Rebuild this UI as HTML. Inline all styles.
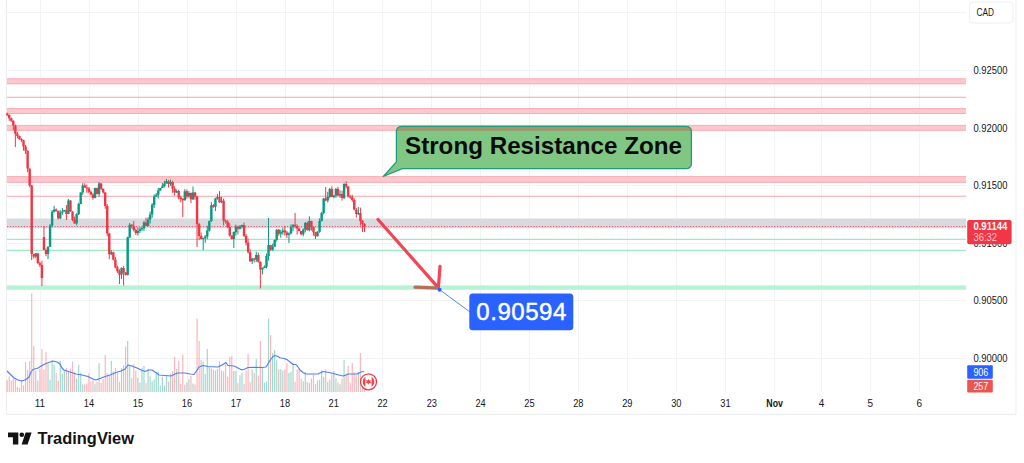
<!DOCTYPE html>
<html lang="en"><head><meta charset="utf-8"><title>TradingView chart</title>
<style>html,body{margin:0;padding:0;background:#fff}body{width:1024px;height:463px;overflow:hidden}svg{display:block}</style>
</head><body>
<svg width="1024" height="463" viewBox="0 0 1024 463" font-family='"Liberation Sans", sans-serif'>
<rect width="1024" height="463" fill="#fff"/>
<g stroke="#f2f3f5" stroke-width="1" shape-rendering="crispEdges"><line x1="6.5" y1="12.5" x2="966.0" y2="12.5"/><line x1="6.5" y1="70.5" x2="966.0" y2="70.5"/><line x1="6.5" y1="128.5" x2="966.0" y2="128.5"/><line x1="6.5" y1="185.5" x2="966.0" y2="185.5"/><line x1="6.5" y1="243.5" x2="966.0" y2="243.5"/><line x1="6.5" y1="300.5" x2="966.0" y2="300.5"/><line x1="6.5" y1="358.5" x2="966.0" y2="358.5"/><line x1="40.5" y1="0" x2="40.5" y2="392.0"/><line x1="89.5" y1="0" x2="89.5" y2="392.0"/><line x1="138.5" y1="0" x2="138.5" y2="392.0"/><line x1="187.5" y1="0" x2="187.5" y2="392.0"/><line x1="236.5" y1="0" x2="236.5" y2="392.0"/><line x1="285.5" y1="0" x2="285.5" y2="392.0"/><line x1="333.5" y1="0" x2="333.5" y2="392.0"/><line x1="382.5" y1="0" x2="382.5" y2="392.0"/><line x1="431.5" y1="0" x2="431.5" y2="392.0"/><line x1="480.5" y1="0" x2="480.5" y2="392.0"/><line x1="529.5" y1="0" x2="529.5" y2="392.0"/><line x1="578.5" y1="0" x2="578.5" y2="392.0"/><line x1="627.5" y1="0" x2="627.5" y2="392.0"/><line x1="676.5" y1="0" x2="676.5" y2="392.0"/><line x1="725.5" y1="0" x2="725.5" y2="392.0"/><line x1="774.5" y1="0" x2="774.5" y2="392.0"/><line x1="821.5" y1="0" x2="821.5" y2="392.0"/><line x1="870.5" y1="0" x2="870.5" y2="392.0"/><line x1="919.5" y1="0" x2="919.5" y2="392.0"/></g>
<path d="M6.5 0V414.5H1016.0V0" fill="none" stroke="#ecedf1" stroke-width="1"/>
<rect x="7.0" y="78.5" width="959.0" height="5.6" fill="#fcc8ce"/>
<path d="M7.0 78.8H966.0M7.0 83.8H966.0" stroke="#f7a6b0" stroke-width="0.8" fill="none"/>
<rect x="7.0" y="108.2" width="959.0" height="5.6" fill="#fcc8ce"/>
<path d="M7.0 108.5H966.0M7.0 113.5H966.0" stroke="#f7a6b0" stroke-width="0.8" fill="none"/>
<rect x="7.0" y="125.1" width="959.0" height="5.6" fill="#fcc8ce"/>
<path d="M7.0 125.39999999999999H966.0M7.0 130.39999999999998H966.0" stroke="#f7a6b0" stroke-width="0.8" fill="none"/>
<rect x="7.0" y="176.3" width="959.0" height="6.4" fill="#fcc8ce"/>
<path d="M7.0 176.60000000000002H966.0M7.0 182.39999999999998H966.0" stroke="#f7a6b0" stroke-width="0.8" fill="none"/>
<line x1="7.0" y1="97.3" x2="966.0" y2="97.3" stroke="#f7a3ad" stroke-width="1.1"/>
<line x1="7.0" y1="196.2" x2="966.0" y2="196.2" stroke="#f7a3ad" stroke-width="1.1"/>
<rect x="7.0" y="218.5" width="959.0" height="9.8" fill="#d9dae0"/>
<line x1="7.0" y1="226.6" x2="966.0" y2="226.6" stroke="#f23645" stroke-width="1" stroke-dasharray="1.2 1.6" opacity="0.85"/>
<line x1="7.0" y1="239.4" x2="966.0" y2="239.4" stroke="#9eeac4" stroke-width="1.2"/>
<line x1="7.0" y1="250.4" x2="966.0" y2="250.4" stroke="#9eeac4" stroke-width="1.2"/>
<rect x="7.0" y="285.4" width="959.0" height="4.4" fill="#b7f2d5"/>
<filter id="bl" x="-2%" y="-5%" width="104%" height="110%"><feGaussianBlur stdDeviation="0.4"/></filter><g filter="url(#bl)">
<path d="M35.78 252.9V258.1M48.03 246.4V259.0M50.07 224.0V247.0M52.12 210.0V227.2M54.16 205.8V212.6M60.28 210.1V219.2M62.32 207.9V214.7M64.37 209.9V211.4M68.45 199.0V214.2M76.62 213.2V225.4M78.66 202.7V215.0M80.70 192.3V204.4M82.74 183.2V194.9M94.99 187.6V198.3M99.08 182.0V196.8M111.33 250.2V255.2M121.53 267.3V279.0M127.66 236.7V275.4M129.70 223.0V238.2M137.87 227.3V235.7M139.91 227.3V233.1M141.95 226.5V230.9M143.99 220.9V231.0M148.08 217.2V226.3M150.12 211.5V223.5M152.16 203.2V217.8M154.20 194.5V207.9M156.24 193.1V196.7M158.28 187.9V198.6M160.32 187.9V190.8M162.37 183.0V188.0M164.41 180.9V187.4M166.45 178.9V183.4M170.53 179.6V185.9M176.66 189.3V193.1M184.82 189.1V200.7M188.91 191.1V197.8M192.99 186.5V200.1M203.20 237.6V250.0M205.24 235.1V242.8M207.28 225.8V239.2M209.32 220.7V231.6M211.37 202.2V221.9M215.45 197.7V211.0M217.49 194.2V199.6M221.57 196.8V203.2M233.82 231.4V248.0M235.87 224.6V235.6M239.95 225.1V229.6M241.99 224.6V228.2M252.20 257.9V264.0M256.28 251.7V262.0M262.41 267.3V274.5M264.45 265.3V268.2M266.49 253.5V268.4M268.53 218.0V260.6M272.62 243.7V250.8M274.66 239.4V246.8M276.70 229.2V241.5M280.78 229.7V237.7M282.82 227.8V234.8M288.95 232.3V243.0M290.99 224.5V234.4M293.03 224.4V231.2M303.24 228.3V236.3M305.28 222.0V232.4M309.37 216.4V231.3M317.53 231.3V236.6M319.58 218.3V232.7M321.62 211.8V221.5M323.66 198.0V214.4M327.74 191.8V202.5M329.78 187.9V198.3M333.87 195.3V198.4M335.91 188.0V197.8M339.99 190.3V197.8M344.08 183.0V199.1M358.37 207.0V215.0" stroke="#089981" stroke-width="1.0" fill="none"/>
<path d="M7.20 112.6V116.0M9.24 114.2V120.8M11.28 117.4V122.0M13.32 120.4V130.3M15.37 124.5V147.0M17.41 131.9V138.5M19.45 135.6V139.8M21.49 138.4V141.9M23.53 139.8V150.7M25.58 145.0V154.0M27.62 150.4V172.0M29.66 168.6V187.3M31.70 185.0V260.0M33.74 253.9V258.5M37.83 252.7V263.5M39.87 261.9V267.0M41.91 260.8V286.0M43.95 226.0V250.0M45.99 248.6V256.1M56.20 208.4V211.7M58.24 210.6V219.6M66.41 205.2V220.0M70.49 200.4V212.0M72.53 211.1V221.2M74.58 216.6V223.6M84.78 183.2V188.0M86.83 184.5V192.8M88.87 187.0V193.2M90.91 190.4V195.2M92.95 193.2V199.8M97.03 187.7V194.5M101.12 183.0V190.1M103.16 188.6V193.5M105.20 192.2V208.9M107.24 204.0V236.2M109.28 232.7V259.3M113.37 251.6V260.3M115.41 256.9V268.4M117.45 265.8V273.1M119.49 269.4V284.0M123.58 266.0V285.5M125.62 272.0V275.4M131.74 224.1V228.4M133.78 221.1V231.5M135.83 228.8V235.0M146.03 217.7V226.2M168.49 180.0V187.6M172.57 180.7V192.9M174.62 186.4V195.5M178.70 189.9V199.6M180.74 195.8V202.3M182.78 198.0V217.0M186.87 189.5V198.7M190.95 192.5V203.2M195.03 191.8V199.8M197.07 195.9V247.0M199.12 223.0V240.2M201.16 232.5V239.2M213.41 204.1V207.7M219.53 191.0V203.1M223.62 198.6V225.3M225.66 219.4V223.7M227.70 219.9V228.2M229.74 223.2V236.7M231.78 235.4V239.3M237.91 225.7V234.4M244.03 222.5V236.9M246.07 234.0V245.5M248.12 238.6V253.4M250.16 249.5V261.9M254.24 258.0V262.4M258.32 252.6V262.8M260.37 261.4V288.5M270.57 244.8V250.9M278.74 229.0V235.7M284.87 225.9V235.6M286.91 231.0V237.9M295.07 213.0V228.1M297.12 224.4V234.6M299.16 227.8V231.3M301.20 231.0V235.3M307.33 221.6V230.4M311.41 220.7V230.6M313.45 226.6V235.7M315.49 231.9V239.0M325.70 187.0V201.3M331.83 186.4V197.3M337.95 186.7V196.0M342.03 190.6V200.7M346.12 181.3V188.5M348.16 186.2V197.3M350.20 194.8V198.7M352.24 194.8V201.8M354.28 198.3V210.3M356.33 208.0V217.7M360.41 207.6V225.4M362.45 220.2V232.0M364.49 223.1V232.1" stroke="#f23645" stroke-width="1.0" fill="none"/>
<path d="M34.58 253.5h2.4v3.0h-2.4zM46.83 246.7h2.4v7.2h-2.4zM48.87 225.5h2.4v21.2h-2.4zM50.92 211.8h2.4v13.7h-2.4zM52.96 209.5h2.4v2.2h-2.4zM59.08 212.4h2.4v5.8h-2.4zM61.12 211.4h2.4v1.0h-2.4zM63.17 209.9h2.4v1.5h-2.4zM67.25 200.4h2.4v13.5h-2.4zM75.42 214.3h2.4v9.1h-2.4zM77.46 204.1h2.4v10.2h-2.4zM79.50 192.5h2.4v11.5h-2.4zM81.54 185.4h2.4v7.2h-2.4zM93.79 188.1h2.4v9.8h-2.4zM97.88 183.4h2.4v10.6h-2.4zM110.13 252.3h2.4v1.9h-2.4zM120.33 268.1h2.4v6.5h-2.4zM126.46 237.4h2.4v37.5h-2.4zM128.50 224.8h2.4v12.6h-2.4zM136.67 231.1h2.4v1.8h-2.4zM138.71 229.3h2.4v1.8h-2.4zM140.75 228.1h2.4v1.2h-2.4zM142.79 222.5h2.4v5.7h-2.4zM146.88 219.4h2.4v6.6h-2.4zM148.92 214.5h2.4v4.9h-2.4zM150.96 204.8h2.4v9.7h-2.4zM153.00 196.5h2.4v8.4h-2.4zM155.04 194.7h2.4v1.7h-2.4zM157.08 190.5h2.4v4.3h-2.4zM159.12 187.9h2.4v2.6h-2.4zM161.17 186.3h2.4v1.6h-2.4zM163.21 183.4h2.4v2.9h-2.4zM165.25 181.3h2.4v2.1h-2.4zM169.33 181.9h2.4v2.1h-2.4zM175.46 191.1h2.4v1.5h-2.4zM183.62 191.3h2.4v9.0h-2.4zM187.71 192.9h2.4v3.4h-2.4zM191.79 192.5h2.4v6.7h-2.4zM202.00 237.9h2.4v1.2h-2.4zM204.04 236.4h2.4v1.5h-2.4zM206.08 230.4h2.4v6.1h-2.4zM208.12 220.9h2.4v9.5h-2.4zM210.17 205.3h2.4v15.7h-2.4zM214.25 198.5h2.4v8.3h-2.4zM216.29 197.0h2.4v1.5h-2.4zM220.37 200.7h2.4v1.6h-2.4zM232.62 232.1h2.4v6.9h-2.4zM234.67 226.7h2.4v5.5h-2.4zM238.75 226.5h2.4v2.3h-2.4zM240.79 224.9h2.4v1.6h-2.4zM251.00 258.6h2.4v2.7h-2.4zM255.08 255.1h2.4v4.6h-2.4zM261.21 267.9h2.4v1.6h-2.4zM263.25 266.7h2.4v1.2h-2.4zM265.29 256.1h2.4v10.7h-2.4zM267.33 245.1h2.4v10.9h-2.4zM271.42 246.7h2.4v3.0h-2.4zM273.46 239.9h2.4v6.8h-2.4zM275.50 229.8h2.4v10.2h-2.4zM279.58 232.2h2.4v1.6h-2.4zM281.62 230.5h2.4v1.8h-2.4zM287.75 233.4h2.4v1.6h-2.4zM289.79 227.0h2.4v6.4h-2.4zM291.83 224.7h2.4v2.3h-2.4zM302.04 229.5h2.4v4.7h-2.4zM304.08 223.1h2.4v6.4h-2.4zM308.17 221.0h2.4v9.2h-2.4zM316.33 231.8h2.4v4.4h-2.4zM318.38 220.9h2.4v10.9h-2.4zM320.42 213.0h2.4v7.9h-2.4zM322.46 198.6h2.4v14.4h-2.4zM326.54 197.1h2.4v3.3h-2.4zM328.58 188.9h2.4v8.2h-2.4zM332.67 195.5h2.4v1.6h-2.4zM334.71 189.1h2.4v6.4h-2.4zM338.79 194.1h2.4v1.4h-2.4zM342.88 184.1h2.4v13.8h-2.4zM357.17 213.0h2.4v1.0h-2.4z" fill="#089981"/>
<path d="M6.00 113.5h2.4v1.5h-2.4zM8.04 115.0h2.4v3.3h-2.4zM10.08 118.3h2.4v2.5h-2.4zM12.12 120.8h2.4v4.8h-2.4zM14.17 125.7h2.4v8.1h-2.4zM16.21 133.7h2.4v2.2h-2.4zM18.25 135.9h2.4v3.1h-2.4zM20.29 139.0h2.4v1.3h-2.4zM22.33 140.3h2.4v6.3h-2.4zM24.38 146.6h2.4v4.2h-2.4zM26.42 150.8h2.4v17.8h-2.4zM28.46 168.6h2.4v16.9h-2.4zM30.50 185.5h2.4v68.5h-2.4zM32.54 254.0h2.4v2.6h-2.4zM36.62 253.5h2.4v9.7h-2.4zM38.67 263.2h2.4v1.9h-2.4zM40.71 265.1h2.4v13.0h-2.4zM42.75 237.0h2.4v13.0h-2.4zM44.79 250.0h2.4v3.9h-2.4zM55.00 209.5h2.4v1.5h-2.4zM57.04 211.1h2.4v7.2h-2.4zM65.21 209.9h2.4v4.0h-2.4zM69.29 200.4h2.4v10.9h-2.4zM71.33 211.4h2.4v8.3h-2.4zM73.38 219.7h2.4v3.7h-2.4zM83.58 185.4h2.4v2.0h-2.4zM85.63 187.4h2.4v1.2h-2.4zM87.67 188.6h2.4v3.2h-2.4zM89.71 191.8h2.4v2.8h-2.4zM91.75 194.6h2.4v3.3h-2.4zM95.83 188.1h2.4v5.9h-2.4zM99.92 183.4h2.4v5.3h-2.4zM101.96 188.7h2.4v3.9h-2.4zM104.00 192.6h2.4v13.3h-2.4zM106.04 205.9h2.4v27.7h-2.4zM108.08 233.6h2.4v20.6h-2.4zM112.17 252.3h2.4v7.4h-2.4zM114.21 259.7h2.4v7.7h-2.4zM116.25 267.4h2.4v3.8h-2.4zM118.29 271.2h2.4v3.5h-2.4zM122.38 268.1h2.4v4.1h-2.4zM124.42 272.2h2.4v2.7h-2.4zM130.54 224.8h2.4v1.4h-2.4zM132.58 226.2h2.4v3.8h-2.4zM134.63 230.0h2.4v2.9h-2.4zM144.83 222.5h2.4v3.5h-2.4zM167.29 181.3h2.4v2.7h-2.4zM171.37 181.9h2.4v6.6h-2.4zM173.42 188.5h2.4v4.1h-2.4zM177.50 191.1h2.4v6.3h-2.4zM179.54 197.4h2.4v1.5h-2.4zM181.58 198.9h2.4v1.4h-2.4zM185.67 191.3h2.4v5.1h-2.4zM189.75 192.9h2.4v6.4h-2.4zM193.83 192.5h2.4v4.1h-2.4zM195.87 196.6h2.4v27.7h-2.4zM197.92 224.3h2.4v11.8h-2.4zM199.96 236.1h2.4v3.0h-2.4zM212.21 205.3h2.4v1.6h-2.4zM218.33 197.0h2.4v5.3h-2.4zM222.42 200.7h2.4v20.0h-2.4zM224.46 220.8h2.4v1.3h-2.4zM226.50 222.1h2.4v4.9h-2.4zM228.54 226.9h2.4v8.5h-2.4zM230.58 235.5h2.4v3.5h-2.4zM236.71 226.7h2.4v2.1h-2.4zM242.83 224.9h2.4v11.2h-2.4zM244.87 236.1h2.4v6.6h-2.4zM246.92 242.7h2.4v9.5h-2.4zM248.96 252.2h2.4v9.1h-2.4zM253.04 258.6h2.4v1.0h-2.4zM257.12 255.1h2.4v6.7h-2.4zM259.17 261.7h2.4v7.7h-2.4zM269.37 245.1h2.4v4.6h-2.4zM277.54 229.8h2.4v4.0h-2.4zM283.67 230.5h2.4v2.0h-2.4zM285.71 232.4h2.4v2.6h-2.4zM293.87 224.7h2.4v1.4h-2.4zM295.92 226.0h2.4v2.6h-2.4zM297.96 228.6h2.4v2.4h-2.4zM300.00 231.1h2.4v3.1h-2.4zM306.13 223.1h2.4v7.1h-2.4zM310.21 221.0h2.4v5.7h-2.4zM312.25 226.7h2.4v5.5h-2.4zM314.29 232.2h2.4v4.0h-2.4zM324.50 198.6h2.4v1.8h-2.4zM330.63 188.9h2.4v8.2h-2.4zM336.75 189.1h2.4v6.4h-2.4zM340.83 194.1h2.4v3.8h-2.4zM344.92 184.1h2.4v2.3h-2.4zM346.96 186.4h2.4v9.8h-2.4zM349.00 196.2h2.4v1.2h-2.4zM351.04 197.3h2.4v2.8h-2.4zM353.08 200.1h2.4v9.5h-2.4zM355.13 209.7h2.4v4.3h-2.4zM359.21 213.0h2.4v7.9h-2.4zM361.25 220.8h2.4v3.1h-2.4zM363.29 223.9h2.4v2.4h-2.4z" fill="#f23645"/>
</g>
<path d="M35.18 392.0V370.4h1.2V392.0zM47.43 392.0V364.1h1.2V392.0zM49.47 392.0V379.8h1.2V392.0zM51.52 392.0V360.3h1.2V392.0zM53.56 392.0V364.9h1.2V392.0zM59.68 392.0V361.0h1.2V392.0zM61.72 392.0V373.6h1.2V392.0zM63.77 392.0V370.2h1.2V392.0zM67.85 392.0V371.6h1.2V392.0zM76.02 392.0V378.6h1.2V392.0zM78.06 392.0V365.0h1.2V392.0zM80.10 392.0V372.4h1.2V392.0zM82.14 392.0V384.6h1.2V392.0zM94.39 392.0V384.3h1.2V392.0zM98.48 392.0V363.0h1.2V392.0zM110.73 392.0V361.0h1.2V392.0zM120.93 392.0V368.1h1.2V392.0zM127.06 392.0V341.0h1.2V392.0zM129.10 392.0V365.6h1.2V392.0zM137.27 392.0V377.7h1.2V392.0zM139.31 392.0V382.8h1.2V392.0zM141.35 392.0V367.8h1.2V392.0zM143.39 392.0V366.1h1.2V392.0zM147.48 392.0V368.8h1.2V392.0zM149.52 392.0V376.2h1.2V392.0zM151.56 392.0V381.4h1.2V392.0zM153.60 392.0V379.4h1.2V392.0zM155.64 392.0V372.1h1.2V392.0zM157.68 392.0V372.1h1.2V392.0zM159.72 392.0V385.4h1.2V392.0zM161.77 392.0V376.9h1.2V392.0zM163.81 392.0V385.5h1.2V392.0zM165.85 392.0V375.7h1.2V392.0zM169.93 392.0V373.7h1.2V392.0zM176.06 392.0V368.8h1.2V392.0zM184.22 392.0V384.8h1.2V392.0zM188.31 392.0V378.9h1.2V392.0zM192.39 392.0V383.4h1.2V392.0zM202.60 392.0V361.4h1.2V392.0zM204.64 392.0V374.0h1.2V392.0zM206.68 392.0V349.0h1.2V392.0zM208.72 392.0V367.0h1.2V392.0zM210.77 392.0V368.4h1.2V392.0zM214.85 392.0V370.5h1.2V392.0zM216.89 392.0V369.3h1.2V392.0zM220.97 392.0V370.4h1.2V392.0zM233.22 392.0V370.7h1.2V392.0zM235.27 392.0V370.9h1.2V392.0zM239.35 392.0V375.3h1.2V392.0zM241.39 392.0V372.8h1.2V392.0zM251.60 392.0V369.5h1.2V392.0zM255.68 392.0V359.0h1.2V392.0zM261.81 392.0V367.1h1.2V392.0zM263.85 392.0V382.8h1.2V392.0zM265.89 392.0V381.6h1.2V392.0zM267.93 392.0V318.5h1.2V392.0zM272.02 392.0V353.0h1.2V392.0zM274.06 392.0V350.0h1.2V392.0zM276.10 392.0V360.3h1.2V392.0zM280.18 392.0V368.9h1.2V392.0zM282.22 392.0V370.7h1.2V392.0zM288.35 392.0V372.9h1.2V392.0zM290.39 392.0V371.9h1.2V392.0zM292.43 392.0V363.3h1.2V392.0zM302.64 392.0V381.3h1.2V392.0zM304.68 392.0V372.3h1.2V392.0zM308.77 392.0V382.7h1.2V392.0zM316.93 392.0V380.5h1.2V392.0zM318.98 392.0V379.8h1.2V392.0zM321.02 392.0V370.2h1.2V392.0zM323.06 392.0V376.8h1.2V392.0zM327.14 392.0V382.1h1.2V392.0zM329.18 392.0V379.4h1.2V392.0zM333.27 392.0V371.1h1.2V392.0zM335.31 392.0V378.6h1.2V392.0zM339.39 392.0V384.3h1.2V392.0zM343.48 392.0V360.0h1.2V392.0zM357.77 392.0V371.9h1.2V392.0z" fill="#089981" opacity="0.38"/>
<path d="M6.60 392.0V380.3h1.2V392.0zM8.64 392.0V376.2h1.2V392.0zM10.68 392.0V380.6h1.2V392.0zM12.72 392.0V378.9h1.2V392.0zM14.77 392.0V379.8h1.2V392.0zM16.81 392.0V387.0h1.2V392.0zM18.85 392.0V387.8h1.2V392.0zM20.89 392.0V379.7h1.2V392.0zM22.93 392.0V385.2h1.2V392.0zM24.98 392.0V362.0h1.2V392.0zM27.02 392.0V370.0h1.2V392.0zM29.06 392.0V361.0h1.2V392.0zM31.10 392.0V293.5h1.2V392.0zM33.14 392.0V346.0h1.2V392.0zM37.23 392.0V380.4h1.2V392.0zM39.27 392.0V368.8h1.2V392.0zM41.31 392.0V349.0h1.2V392.0zM43.35 392.0V369.4h1.2V392.0zM45.39 392.0V352.0h1.2V392.0zM55.60 392.0V373.2h1.2V392.0zM57.64 392.0V381.0h1.2V392.0zM65.81 392.0V367.8h1.2V392.0zM69.89 392.0V368.6h1.2V392.0zM71.93 392.0V361.5h1.2V392.0zM73.98 392.0V372.2h1.2V392.0zM84.18 392.0V384.3h1.2V392.0zM86.23 392.0V383.4h1.2V392.0zM88.27 392.0V373.6h1.2V392.0zM90.31 392.0V381.6h1.2V392.0zM92.35 392.0V380.1h1.2V392.0zM96.43 392.0V382.0h1.2V392.0zM100.52 392.0V382.7h1.2V392.0zM102.56 392.0V379.1h1.2V392.0zM104.60 392.0V355.0h1.2V392.0zM106.64 392.0V373.2h1.2V392.0zM108.68 392.0V375.8h1.2V392.0zM112.77 392.0V371.4h1.2V392.0zM114.81 392.0V368.1h1.2V392.0zM116.85 392.0V373.0h1.2V392.0zM118.89 392.0V381.8h1.2V392.0zM122.98 392.0V364.9h1.2V392.0zM125.02 392.0V346.5h1.2V392.0zM131.14 392.0V377.9h1.2V392.0zM133.18 392.0V364.2h1.2V392.0zM135.23 392.0V370.8h1.2V392.0zM145.43 392.0V383.0h1.2V392.0zM167.89 392.0V381.5h1.2V392.0zM171.97 392.0V371.3h1.2V392.0zM174.02 392.0V357.0h1.2V392.0zM178.10 392.0V361.0h1.2V392.0zM180.14 392.0V384.0h1.2V392.0zM182.18 392.0V354.5h1.2V392.0zM186.27 392.0V382.2h1.2V392.0zM190.35 392.0V375.9h1.2V392.0zM194.43 392.0V384.6h1.2V392.0zM196.47 392.0V318.5h1.2V392.0zM198.52 392.0V341.0h1.2V392.0zM200.56 392.0V360.0h1.2V392.0zM212.81 392.0V369.6h1.2V392.0zM218.93 392.0V361.2h1.2V392.0zM223.02 392.0V371.3h1.2V392.0zM225.06 392.0V364.0h1.2V392.0zM227.10 392.0V376.8h1.2V392.0zM229.14 392.0V357.0h1.2V392.0zM231.18 392.0V356.0h1.2V392.0zM237.31 392.0V383.3h1.2V392.0zM243.43 392.0V383.7h1.2V392.0zM245.47 392.0V370.7h1.2V392.0zM247.52 392.0V354.0h1.2V392.0zM249.56 392.0V382.1h1.2V392.0zM253.64 392.0V373.0h1.2V392.0zM257.72 392.0V375.6h1.2V392.0zM259.77 392.0V341.0h1.2V392.0zM269.97 392.0V335.0h1.2V392.0zM278.14 392.0V369.6h1.2V392.0zM284.27 392.0V369.4h1.2V392.0zM286.31 392.0V363.3h1.2V392.0zM294.47 392.0V381.7h1.2V392.0zM296.52 392.0V369.5h1.2V392.0zM298.56 392.0V368.5h1.2V392.0zM300.60 392.0V378.8h1.2V392.0zM306.73 392.0V381.8h1.2V392.0zM310.81 392.0V378.6h1.2V392.0zM312.85 392.0V374.4h1.2V392.0zM314.89 392.0V384.1h1.2V392.0zM325.10 392.0V369.5h1.2V392.0zM331.23 392.0V374.4h1.2V392.0zM337.35 392.0V382.5h1.2V392.0zM341.43 392.0V378.6h1.2V392.0zM345.52 392.0V373.6h1.2V392.0zM347.56 392.0V366.0h1.2V392.0zM349.60 392.0V382.7h1.2V392.0zM351.64 392.0V363.0h1.2V392.0zM353.68 392.0V372.6h1.2V392.0zM355.73 392.0V375.3h1.2V392.0zM359.81 392.0V353.0h1.2V392.0zM361.85 392.0V382.6h1.2V392.0zM363.89 392.0V379.4h1.2V392.0z" fill="#f23645" opacity="0.36"/>
<path d="M7 371 L10 374 L14 378 L18 380 L22 381 L26 379.5 L29 377 L31 372 L33 369.5 L38 368 L42 365.5 L46 363.5 L50 362 L53 361 L57 362 L60 364 L62 368 L64 370 L70 372 L76 374 L82 375 L88 376.5 L93 379 L96 380 L100 378.5 L105 376.5 L110 375 L116 372.5 L121 371 L125 369 L128 365 L132 366 L137 368 L141 370 L145 371.5 L149 370 L152 370 L155 372 L159 375 L165 375.5 L171 376 L175 374 L178 373 L185 373 L190 374 L194 374.5 L196.5 371 L199 367 L203 365.5 L208 366.5 L213 366.7 L218 367 L222 365 L226 362.5 L228 365.5 L234 366 L238 368 L242 370 L245 369 L248 367.5 L255 367.3 L262 367.5 L266 367 L268.5 363 L271 359 L273 356.5 L275 355.5 L278 356.5 L280 357.7 L284 358.5 L287 359.6 L290 362 L293 364.5 L296 364.5 L298 367 L300 370 L303 372.5 L306 374 L312 374 L318 374 L321 372.5 L323 371.5 L326 372 L329 372.5 L336 374.3 L343 376 L346 375 L348 374 L353 374 L357 374 L359 373 L361 372 L364 371.5" fill="none" stroke="#4f7ff3" stroke-width="1.15" stroke-linejoin="round"/>
<g><circle cx="368.5" cy="381.8" r="8" fill="#fff" stroke="#f23645" stroke-width="1.3"/><clipPath id="fc"><circle cx="368.5" cy="381.8" r="5.9"/></clipPath><g clip-path="url(#fc)"><rect x="362.5" y="375.8" width="2.9" height="12" fill="#f0444f"/><rect x="371.6" y="375.8" width="3.4" height="12" fill="#f0444f"/><path d="M368.5 379.1l1 1.5 1.5-0.3-0.7 1.5 0.8 1-1.8 0.7h-1.6l-1.8-0.7 0.8-1-0.7-1.5 1.5 0.3z" fill="#f0444f"/><rect x="368.2" y="382.8" width="0.6" height="1.6" fill="#f0444f"/></g></g>
<g stroke="#f23645" stroke-width="3.2" stroke-linecap="round" fill="none" opacity="0.92"><path d="M378 219.5L438.2 287.6"/><path d="M440 266.3L438.4 287.6"/></g>
<path d="M415 287.2L438 288.1" stroke="#b36f5a" stroke-width="3.2" stroke-linecap="round" fill="none"/>
<line x1="439.6" y1="289.7" x2="470" y2="312" stroke="#2962ff" stroke-width="0.8"/>
<circle cx="439.6" cy="289.7" r="2" fill="#2962ff"/>
<rect x="469.3" y="293.6" width="104" height="36.7" rx="3.5" fill="#2962ff"/>
<text x="521.6" y="320.2" font-size="24" fill="#fff" stroke="#fff" stroke-width="0.45" text-anchor="middle" letter-spacing="0.55">0.90594</text>
<path d="M401.4 126.3H686.4a5 5 0 0 1 5 5V163.7a5 5 0 0 1-5 5H402.2L383.3 176.5L396.4 161.9V131.3a5 5 0 0 1 5-5z" fill="#6fbf73" fill-opacity="0.88" stroke="#1f9d78" stroke-width="1.3" stroke-linejoin="round"/>
<path d="M397 130.7V131.3a4.4 4.4 0 0 1 4.4-4.4H686.4a4.4 4.4 0 0 1 4.4 4.4V130.7z" fill="#f23645" fill-opacity="0.30"/>
<text x="405" y="154" font-size="24.5" font-weight="700" fill="#0b0b0b" textLength="277" lengthAdjust="spacingAndGlyphs">Strong Resistance Zone</text>
<text x="973.4" y="73.89999999999999" font-size="10" fill="#131722" textLength="34" lengthAdjust="spacingAndGlyphs">0.92500</text>
<text x="973.4" y="131.5" font-size="10" fill="#131722" textLength="34" lengthAdjust="spacingAndGlyphs">0.92000</text>
<text x="973.4" y="189.1" font-size="10" fill="#131722" textLength="34" lengthAdjust="spacingAndGlyphs">0.91500</text>
<text x="973.4" y="246.7" font-size="10" fill="#131722" textLength="34" lengthAdjust="spacingAndGlyphs">0.91000</text>
<text x="973.4" y="304.3" font-size="10" fill="#131722" textLength="34" lengthAdjust="spacingAndGlyphs">0.90500</text>
<text x="973.4" y="361.90000000000003" font-size="10" fill="#131722" textLength="34" lengthAdjust="spacingAndGlyphs">0.90000</text>
<rect x="969.5" y="2" width="43.5" height="21" rx="3.5" fill="#fff" stroke="#eceef2" stroke-width="1"/>
<text x="976.6" y="15.9" font-size="10" fill="#131722" textLength="17.4" lengthAdjust="spacingAndGlyphs">CAD</text>
<rect x="967.2" y="219.9" width="44.4" height="24.4" rx="2" fill="#f23645"/>
<text x="973.4" y="230.3" font-size="10" font-weight="700" fill="#fff" textLength="34" lengthAdjust="spacingAndGlyphs">0.91144</text>
<text x="973.4" y="241.4" font-size="10" fill="#fff" fill-opacity="0.72" textLength="23.6" lengthAdjust="spacingAndGlyphs">36:32</text>
<rect x="967.2" y="365.3" width="25.6" height="13.4" rx="1" fill="#2962ff"/>
<text x="973.4" y="375.5" font-size="10" fill="#fff" textLength="14.8" lengthAdjust="spacingAndGlyphs">906</text>
<rect x="967.2" y="379.8" width="25.6" height="12.7" rx="1" fill="#ef5350"/>
<text x="973.4" y="389.7" font-size="10" fill="#fff" textLength="14.8" lengthAdjust="spacingAndGlyphs">257</text>
<text x="40" y="407.2" font-size="10" fill="#131722" text-anchor="middle" textLength="10.3" lengthAdjust="spacingAndGlyphs">11</text>
<text x="89" y="407.2" font-size="10" fill="#131722" text-anchor="middle" textLength="10.3" lengthAdjust="spacingAndGlyphs">14</text>
<text x="138" y="407.2" font-size="10" fill="#131722" text-anchor="middle" textLength="10.3" lengthAdjust="spacingAndGlyphs">15</text>
<text x="187" y="407.2" font-size="10" fill="#131722" text-anchor="middle" textLength="10.3" lengthAdjust="spacingAndGlyphs">16</text>
<text x="236" y="407.2" font-size="10" fill="#131722" text-anchor="middle" textLength="10.3" lengthAdjust="spacingAndGlyphs">17</text>
<text x="285" y="407.2" font-size="10" fill="#131722" text-anchor="middle" textLength="10.3" lengthAdjust="spacingAndGlyphs">18</text>
<text x="333.7" y="407.2" font-size="10" fill="#131722" text-anchor="middle" textLength="10.3" lengthAdjust="spacingAndGlyphs">21</text>
<text x="382.6" y="407.2" font-size="10" fill="#131722" text-anchor="middle" textLength="10.3" lengthAdjust="spacingAndGlyphs">22</text>
<text x="431.8" y="407.2" font-size="10" fill="#131722" text-anchor="middle" textLength="10.3" lengthAdjust="spacingAndGlyphs">23</text>
<text x="480.6" y="407.2" font-size="10" fill="#131722" text-anchor="middle" textLength="10.3" lengthAdjust="spacingAndGlyphs">24</text>
<text x="529.4" y="407.2" font-size="10" fill="#131722" text-anchor="middle" textLength="10.3" lengthAdjust="spacingAndGlyphs">25</text>
<text x="578.3" y="407.2" font-size="10" fill="#131722" text-anchor="middle" textLength="10.3" lengthAdjust="spacingAndGlyphs">28</text>
<text x="627.3" y="407.2" font-size="10" fill="#131722" text-anchor="middle" textLength="10.3" lengthAdjust="spacingAndGlyphs">29</text>
<text x="676.3" y="407.2" font-size="10" fill="#131722" text-anchor="middle" textLength="10.3" lengthAdjust="spacingAndGlyphs">30</text>
<text x="725.4" y="407.2" font-size="10" fill="#131722" text-anchor="middle" textLength="10.3" lengthAdjust="spacingAndGlyphs">31</text>
<text x="774.6" y="407.2" font-size="10" fill="#131722" text-anchor="middle" font-weight="700" textLength="16.6" lengthAdjust="spacingAndGlyphs">Nov</text>
<text x="821.6" y="407.2" font-size="10" fill="#131722" text-anchor="middle">4</text>
<text x="870.4" y="407.2" font-size="10" fill="#131722" text-anchor="middle">5</text>
<text x="919.4" y="407.2" font-size="10" fill="#131722" text-anchor="middle">6</text>
<g fill="#131313"><path d="M8 432.4H18.3V444.4H12.9V437.3H8z"/><circle cx="21.8" cy="434.7" r="2.3"/><path d="M25.6 432.4H31.6L27.6 444.4H21.6z"/></g>
<text x="37.6" y="444.3" font-size="16" font-weight="700" fill="#131313" textLength="96.4" lengthAdjust="spacingAndGlyphs">TradingView</text>
</svg>
</body></html>
